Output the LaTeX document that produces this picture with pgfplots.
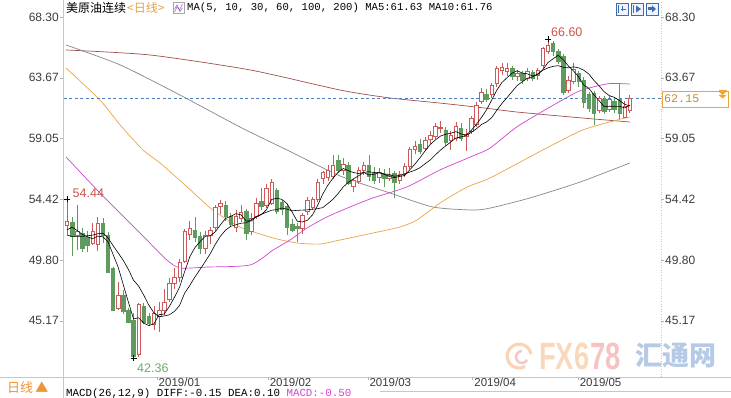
\documentclass[border=0pt]{standalone}
\usepackage{pgfplots}
\pgfplotsset{compat=1.18}
\usepackage{pgfplotstable}
\usepackage{fontspec}
\setmainfont{Liberation Sans}
\newfontfamily\cjk{Noto Sans CJK SC}
\newfontfamily\mono{Liberation Mono}
\definecolor{upcol}{RGB}{205,90,90}
\definecolor{dncol}{RGB}{95,155,95}
\definecolor{maA}{RGB}{210,70,210}
\definecolor{maB}{RGB}{235,165,70}
\definecolor{maC}{RGB}{135,135,135}
\definecolor{maD}{RGB}{160,80,75}
\definecolor{dashc}{RGB}{80,125,190}
\definecolor{tickc}{RGB}{60,60,60}
\definecolor{hdrorg}{RGB}{232,160,70}
\definecolor{lblred}{RGB}{200,85,75}
\definecolor{lblgrn}{RGB}{110,170,110}
\definecolor{boxorg}{RGB}{235,165,60}
\definecolor{btnblue}{RGB}{60,110,175}

\pgfplotstableread{
i O H L C m5 m10
0 52.42 54.44 51.70 52.72 52.10 51.70
1 52.70 53.10 50.10 51.60 52.30 51.60
2 51.70 54.00 50.60 51.96 52.05 51.60
3 51.84 52.24 50.44 50.70 51.75 51.60
4 51.50 52.00 50.40 50.90 51.576 51.65
5 51.10 52.60 50.95 51.96 51.424 51.70
6 51.00 53.10 50.50 52.60 51.624 51.80
7 52.60 53.00 51.10 51.70 51.572 51.85
8 51.70 51.96 48.80 48.90 51.212 51.50
9 49.20 49.30 45.90 46.00 50.232 50.904
10 46.13 48.16 46.00 47.14 49.268 50.346
11 47.10 47.50 45.70 45.90 47.928 49.776
12 46.00 46.15 45.00 45.10 46.608 49.090
13 45.24 45.80 42.36 42.50 45.328 48.270
14 42.60 46.50 42.45 46.40 45.408 47.820
15 46.30 46.50 44.90 45.10 45.000 47.134
16 45.50 45.80 44.80 45.00 44.820 46.374
17 44.90 46.30 44.50 45.75 44.950 45.779
18 45.50 46.60 44.35 46.00 45.650 45.489
19 46.00 47.60 45.60 46.60 45.690 45.549
20 46.80 48.40 46.60 48.00 46.270 45.635
21 48.00 49.20 47.60 48.50 46.970 45.895
22 48.50 49.90 48.10 49.60 47.740 46.345
23 49.70 52.20 49.60 51.96 48.932 47.291
24 51.80 52.80 51.30 52.20 50.052 47.871
25 52.10 53.10 51.20 51.50 50.752 48.511
26 51.60 51.90 50.30 50.70 51.192 49.081
27 50.70 52.00 50.30 51.70 51.612 49.676
28 51.70 52.30 51.00 52.10 51.640 50.286
29 52.30 54.00 52.00 53.80 51.960 51.006
30 53.90 54.40 53.30 54.15 52.490 51.621
31 54.00 54.30 52.80 53.10 52.970 52.081
32 53.10 53.40 52.30 52.50 53.130 52.371
33 52.30 53.60 51.90 53.10 53.330 52.485
34 53.00 54.00 52.70 53.40 53.250 52.605
35 53.50 53.70 51.30 51.84 52.788 52.639
36 51.96 53.40 51.70 53.00 52.768 52.869
37 53.10 54.50 52.90 54.15 53.098 53.114
38 54.30 55.30 53.60 53.90 53.258 53.294
39 54.00 55.60 53.80 55.30 53.638 53.444
40 54.15 56.00 54.00 55.70 54.410 53.599
41 55.10 55.30 53.30 53.50 54.510 53.639
42 54.20 54.40 53.20 53.70 54.420 53.759
43 53.90 54.10 51.70 52.30 54.100 53.679
44 52.50 52.90 51.90 52.10 53.460 53.549
45 52.40 52.60 51.20 52.20 52.760 53.585
46 52.20 53.40 51.80 53.20 52.700 53.605
47 53.50 54.60 53.20 54.35 52.830 53.625
48 53.80 54.60 53.60 54.40 53.250 53.675
49 54.40 56.00 54.20 55.70 53.970 53.715
50 56.00 56.60 55.60 56.50 54.830 53.795
51 56.10 57.00 55.80 56.60 55.510 54.105
52 56.15 57.80 56.00 57.00 56.040 54.435
53 57.40 57.80 56.40 56.65 56.490 54.870
54 56.60 57.60 56.30 57.10 56.770 55.370
55 57.04 57.30 55.50 55.65 56.600 55.715
56 55.40 56.00 55.00 55.90 56.460 55.985
57 55.80 56.90 55.60 56.65 56.390 56.215
58 56.65 57.30 56.30 57.04 56.468 56.479
59 57.04 57.80 55.80 56.15 56.278 56.524
60 56.40 56.90 55.60 55.90 56.328 56.464
61 56.10 56.80 55.70 56.50 56.448 56.454
62 56.30 56.70 55.40 56.05 56.328 56.359
63 56.05 56.80 55.80 56.25 56.170 56.319
64 56.40 56.60 54.50 55.70 56.080 56.179
65 55.90 56.60 55.60 56.30 56.160 56.244
66 56.40 57.20 56.10 56.90 56.240 56.344
67 56.90 58.40 56.70 58.20 56.670 56.499
68 58.20 58.90 57.90 58.43 57.106 56.638
69 58.60 59.00 57.90 58.10 57.586 56.833
70 58.30 59.20 58.10 58.94 58.114 57.137
71 59.00 59.60 58.60 59.30 58.594 57.417
72 59.20 60.20 59.00 59.95 58.944 57.807
73 59.80 60.40 59.50 59.90 59.238 58.172
74 59.70 59.90 58.50 58.80 59.378 58.482
75 58.90 59.60 58.20 59.30 59.450 58.782
76 59.07 60.30 58.90 59.95 59.580 59.087
77 59.80 60.20 58.90 59.07 59.404 59.174
78 59.20 59.80 58.10 59.40 59.304 59.271
79 59.60 60.80 59.40 60.60 59.664 59.521
80 60.10 61.80 59.90 61.60 60.124 59.787
81 61.90 62.90 61.70 62.55 60.644 60.112
82 62.40 62.80 61.80 62.00 61.230 60.317
83 62.40 63.30 62.10 63.10 61.970 60.637
84 63.25 64.60 63.00 64.40 62.730 61.197
85 64.26 64.80 63.90 64.50 63.310 61.717
86 64.15 64.80 63.80 64.40 63.680 62.162
87 64.40 64.60 63.50 63.75 64.030 62.630
88 63.75 64.30 63.40 64.00 64.210 63.090
89 64.00 64.20 63.20 63.50 64.030 63.380
90 63.60 64.40 63.40 64.20 63.970 63.640
91 64.10 64.30 63.40 63.60 63.810 63.745
92 63.90 64.40 63.50 64.26 63.912 63.971
93 64.65 66.00 64.40 65.90 64.292 64.251
94 65.66 66.60 65.50 66.17 64.826 64.428
95 66.30 66.50 65.30 65.66 65.118 64.544
96 65.66 65.90 64.70 64.90 65.378 64.594
97 65.30 65.50 62.40 62.60 65.046 64.479
98 62.75 63.80 62.50 63.50 64.566 64.429
99 63.40 64.80 63.20 64.30 64.192 64.509
100 64.00 64.20 63.00 63.40 63.740 64.429
101 63.50 63.70 61.40 61.80 63.120 64.249
102 62.40 62.60 61.10 61.35 62.870 63.958
103 62.50 62.70 60.10 61.00 62.370 63.468
104 61.20 62.30 61.00 62.10 61.930 63.061
105 62.00 62.30 60.90 61.10 61.470 62.605
106 61.30 62.30 61.10 62.00 61.510 62.315
107 61.90 62.10 61.00 61.30 61.500 62.185
108 62.00 63.25 60.50 61.00 61.500 61.935
109 60.70 61.90 60.60 61.50 61.380 61.655
110 61.20 62.40 61.00 62.15 61.590 61.530
}\ohlc

\pgfplotstableread{
i v
-0.2 57.65
6.45 54.91
15.6 51.33
19.5 49.81
22.1 49.20
27.4 49.27
35.8 49.43
40.3 50.57
43.6 51.33
46.9 52.24
50.8 53.08
55.3 53.84
59.8 54.53
66.4 55.36
72.9 56.66
79.3 57.72
82.7 58.33
87.9 59.93
94.4 61.45
99.7 62.59
102.8 62.97
106.1 63.24
110 63.20
}\maThirty

\pgfplotstableread{
i v
-0.2 64.42
6.45 61.98
10.4 60.08
14.85 58.18
18.2 57.19
23.5 55.36
28.5 53.61
33.8 52.32
40.3 51.48
45.0 51.10
49.4 51.02
53.4 51.33
59.8 51.86
65.1 52.32
68.4 52.85
72.9 54.14
78.2 55.36
82.7 56.05
93.0 58.18
100.8 59.70
107.5 60.46
110 60.69
}\maSixty

\pgfplotstableread{
i v
-0.2 66.17
10.4 64.65
22.1 62.36
33.8 59.93
43.0 58.18
53.4 56.20
63.1 54.91
71.5 53.84
79.3 53.61
82.7 53.76
90.5 54.53
100.3 55.74
110 57.19
}\maHundred

\pgfplotstableread{
i v
-0.2 65.79
16.2 65.41
35.8 64.27
53.4 62.74
63.1 62.14
72.9 61.75
81.7 61.37
87.9 61.07
100.8 60.61
110 60.31
}\maTwoHundred

\begin{document}
\begin{tikzpicture}[x=1pt,y=1pt]
\useasboundingbox (0,0) rectangle (731,398);
\clip (0,0) rectangle (731,398);
\fill[white] (0,0) rectangle (731,398);

% frame lines
\draw[gray!45, line width=0.6pt] (0,21) -- (731,21);
\draw[gray!45, line width=0.6pt] (380,7) -- (731,7);
\draw[gray!45, line width=0.6pt] (63,0) -- (63,398);
\draw[gray!45, line width=0.6pt, dotted] (661,21) -- (661,398);

\begin{axis}[
  at={(63pt,21pt)}, anchor=south west,
  scale only axis, width=598pt, height=377pt,
  xmin=-0.78, xmax=116.1, ymin=40.903, ymax=69.594,
  axis line style={draw=none},
  tick align=outside, major tick length=3pt,
  tick style={draw=gray!60, line width=0.5pt},
  xtick pos=bottom, ytick pos=left,
  xtick={17.6,39.3,58.8,79.3,99.9},
  xticklabels={2019/01,2019/02,2019/03,2019/04,2019/05},
  xticklabel style={anchor=north west, inner sep=0pt, xshift=1.5pt, yshift=2pt,
     font=\fontsize{11.5}{13}\selectfont, text=tickc},
  ytick={45.17,49.80,54.42,59.05,63.67,68.30},
  yticklabels={45.17,49.80,54.42,59.05,63.67,68.30},
  yticklabel style={font=\fontsize{12}{14}\selectfont, text=tickc, inner sep=1pt},
  /pgf/number format/assume math mode=true,
]
% long moving averages
\addplot[maD, line width=0.7pt, smooth, tension=0.4] table[x=i,y=v]{\maTwoHundred};
\addplot[maC, line width=0.7pt, smooth, tension=0.4] table[x=i,y=v]{\maHundred};
\addplot[maB, line width=0.7pt, smooth, tension=0.4] table[x=i,y=v]{\maSixty};
\addplot[maA, line width=0.7pt, smooth, tension=0.4] table[x=i,y=v]{\maThirty};
% current price line
\addplot[dashc, line width=0.6pt, dash pattern=on 3pt off 2.5pt] coordinates {(-0.6,62.15) (116.1,62.15)};

% candles
\pgfplotsforeachungrouped \k in {0,...,110}{%
  \pgfplotstablegetelem{\k}{O}\of\ohlc \let\vO\pgfplotsretval
  \pgfplotstablegetelem{\k}{H}\of\ohlc \let\vH\pgfplotsretval
  \pgfplotstablegetelem{\k}{L}\of\ohlc \let\vL\pgfplotsretval
  \pgfplotstablegetelem{\k}{C}\of\ohlc \let\vC\pgfplotsretval
  \pgfmathsetmacro\xl{\k-0.34}%
  \pgfmathsetmacro\xr{\k+0.34}%
  \pgfmathtruncatemacro\isup{\vC>=\vO?1:0}%
  \ifnum\isup=1
    \edef\cmd{\noexpand\addplot[upcol,line width=0.6pt,forget plot] coordinates {(\k,\vL) (\k,\vH)};%
      \noexpand\addplot[draw=upcol,fill=white,line width=0.6pt,forget plot] coordinates {(\xl,\vO) (\xr,\vO) (\xr,\vC) (\xl,\vC)} -- cycle;}%
  \else
    \edef\cmd{\noexpand\addplot[dncol,line width=0.6pt,forget plot] coordinates {(\k,\vL) (\k,\vH)};%
      \noexpand\addplot[draw=dncol,fill=dncol,line width=0.6pt,forget plot] coordinates {(\xl,\vO) (\xr,\vO) (\xr,\vC) (\xl,\vC)} -- cycle;}%
  \fi
  \cmd
}

% short moving averages
\addplot[black, line width=0.6pt] table[x=i,y=m5]{\ohlc};
\addplot[black, line width=0.6pt] table[x=i,y=m10]{\ohlc};

% extreme markers
\addplot[black, only marks, mark=+, mark size=3pt, mark options={line width=0.6pt}] coordinates {(0,54.44) (13,42.36) (94,66.60)};
\node[anchor=west, inner sep=0pt, text=lblred, font=\fontsize{12.5}{14}\selectfont] at (axis cs:0,54.44) [xshift=5.5pt, yshift=6pt] {54.44};
\node[anchor=west, inner sep=0pt, text=lblgrn, font=\fontsize{12.5}{14}\selectfont] at (axis cs:13,42.36) [xshift=3.5pt, yshift=-10pt] {42.36};
\node[anchor=west, inner sep=0pt, text=lblred, font=\fontsize{12.5}{14}\selectfont] at (axis cs:94,66.60) [xshift=3pt, yshift=7pt] {66.60};
\end{axis}

% right axis labels
\begin{axis}[
  at={(63pt,21pt)}, anchor=south west,
  scale only axis, width=598pt, height=377pt,
  xmin=-0.78, xmax=116.1, ymin=40.903, ymax=69.594,
  axis line style={draw=none},
  xtick=\empty,
  tick align=outside, major tick length=3pt,
  tick style={draw=gray!60, line width=0.5pt},
  ytick pos=right, yticklabel pos=right,
  ytick={45.17,49.80,54.42,59.05,63.67,68.30},
  yticklabels={45.17,49.80,54.42,59.05,63.67,68.30},
  yticklabel style={font=\fontsize{12}{14}\selectfont, text=tickc, inner sep=1pt},
]
\end{axis}

% header
\node[anchor=west, inner sep=0pt, font=\cjk\fontsize{12}{14}\selectfont] at (66,390) {美原油连续};
\node[anchor=west, inner sep=0pt, font=\cjk\fontsize{12}{14}\selectfont, text=hdrorg] at (127,390) {<日线>};
\draw[gray!70, fill=white, line width=0.5pt] (173,384.5) rectangle (184,395.5);
\draw[maA, line width=0.6pt] (174.5,386) -- (177,391) -- (179.5,388) -- (182.5,394);
\draw[dashc, line width=0.5pt] (174.5,389) -- (177,393) -- (180,386.5) -- (182.5,390);
\node[anchor=west, inner sep=0pt, font=\mono\fontsize{10.6}{12}\selectfont] at (187,390) {MA(5, 10, 30, 60, 100, 200) MA5:61.63 MA10:61.76};

% top right buttons
\foreach \bx in {616,631,646}{
  \draw[btnblue, fill=blue!5, line width=0.6pt] (\bx,383) rectangle (\bx+12,395);
}
\draw[btnblue, line width=0.7pt] (618.5,385) -- (618.5,393) (620.5,389) -- (625.5,389) (622,386.5) -- (622,391.5);
\draw[btnblue, line width=0.7pt] (633.5,385) -- (633.5,393);
\fill[btnblue] (636,385.5) -- (636,392.5) -- (641,389) -- cycle;
\fill[btnblue] (648,387.5) rectangle (652,390.5);
\fill[btnblue] (652,385.5) -- (652,392.5) -- (656,389) -- cycle;

% current price box
\draw[boxorg, fill=white, line width=0.8pt] (662,291) rectangle (728,307);
\node[anchor=west, inner sep=0pt, text=boxorg!85!black, font=\mono\fontsize{11.7}{13}\selectfont] at (664,299) {62.15};
\draw[boxorg, line width=0.8pt] (718.5,307.5) -- (726.5,307.5);
\fill[boxorg] (718.5,306.5) -- (726.5,306.5) -- (722.5,303) -- cycle;
\fill[boxorg] (718.5,303) -- (726.5,303) -- (722.5,299.5) -- cycle;

% watermark
\begin{scope}[opacity=0.5]
  \draw[line width=3.2pt, color={rgb,255:red,245;green,170;blue,110}] (531,44) arc (10:300:12);
  \draw[line width=2.5pt, color={rgb,255:red,240;green,140;blue,140}] (522,47) arc (90:330:6);
  \node[anchor=west, inner sep=0pt, font=\bfseries\fontsize{38}{40}\selectfont, xscale=0.72, text={rgb,255:red,245;green,180;blue,120}] at (539,42) {FX6};
  \node[anchor=west, inner sep=0pt, font=\bfseries\fontsize{38}{40}\selectfont, xscale=0.72, text={rgb,255:red,238;green,135;blue,135}] at (590,42) {78};
  \node[anchor=west, inner sep=0pt, font=\cjk\bfseries\fontsize{27}{29}\selectfont, text={rgb,255:red,110;green,150;blue,205}] at (635,42) {汇通网};
\end{scope}

% bottom-left period box
\node[anchor=west, inner sep=0pt, font=\cjk\fontsize{13}{14}\selectfont, text=boxorg!90!red] at (7,10) {日线\,▲};

% MACD text
\node[anchor=base west, inner sep=0pt, font=\mono\fontsize{10.8}{12}\selectfont] at (66,1.2) {MACD(26,12,9) DIFF:-0.15 DEA:0.10 \textcolor{maA}{MACD:-0.50}};
\end{tikzpicture}
\end{document}
